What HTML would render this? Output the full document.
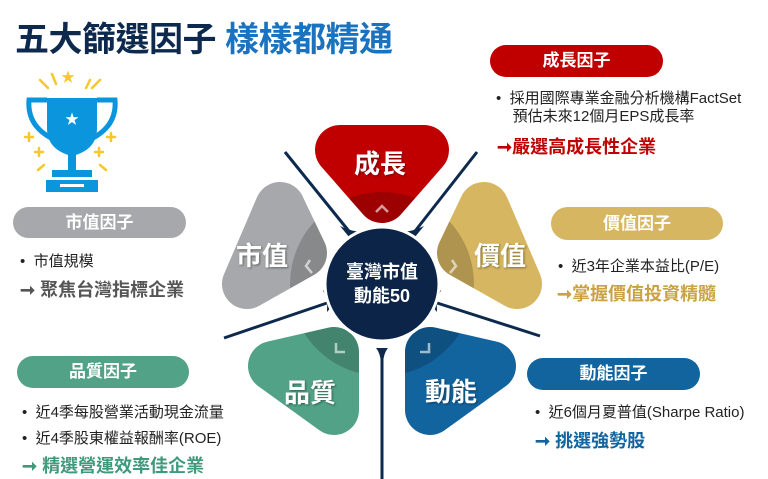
<!DOCTYPE html>
<html><head><meta charset="utf-8"><style>
body{margin:0;width:768px;height:479px;background:#fff;position:relative;overflow:hidden;font-family:"Liberation Sans","Noto Sans CJK TC",sans-serif;}
.a{position:absolute;white-space:nowrap;}
.pill{position:absolute;border-radius:17px;color:#fff;font-size:17px;font-weight:bold;text-align:center;}
.t{font-size:15px;color:#222;}
.ar{font-size:18px;font-weight:bold;}
.pt{position:absolute;white-space:nowrap;font-size:26px;font-weight:bold;color:#fff;text-shadow:1px 1px 2px rgba(0,0,0,.4);}
</style></head><body>
<svg width="768" height="479" style="position:absolute;left:0;top:0">
<defs>
<mask id="m">
<g fill="#fff" stroke="#fff" stroke-width="50" stroke-linejoin="round">
<polygon points="340,150 424,150 382,198"/>
<polygon points="484,207 517,284 462,253"/>
<polygon points="280,207 247,284 302,253"/>
<polygon points="273,366 334,352 334,410"/>
<polygon points="430,352 491,366 430,410"/>
</g></mask>
</defs>
<g stroke-width="50" stroke-linejoin="round">
<polygon points="340,150 424,150 382,198" fill="#c00000" stroke="#c00000"/>
<polygon points="484,207 517,284 462,253" fill="#d6b660" stroke="#d6b660"/>
<polygon points="280,207 247,284 302,253" fill="#a7a8ab" stroke="#a7a8ab"/>
<polygon points="273,366 334,352 334,410" fill="#52a287" stroke="#52a287"/>
<polygon points="430,352 491,366 430,410" fill="#12649f" stroke="#12649f"/>
</g>
<circle cx="382" cy="284" r="92" fill="#000" opacity="0.18" mask="url(#m)"/>
<g stroke="#0d2a4e" stroke-width="3">
<line x1="285" y1="152" x2="352" y2="235"/>
<line x1="477" y1="152" x2="412" y2="235"/>
<line x1="224" y1="338" x2="330" y2="302"/>
<line x1="540" y1="336" x2="434" y2="302"/>
<line x1="382" y1="350" x2="382" y2="479"/>
</g>
<g fill="#0d2a4e">
<path d="M340,226 Q352,232 364,232 L354,243 Z"/>
<path d="M424,226 Q412,232 400,232 L410,243 Z"/>
<path d="M323,290 Q328,300 327,312 L337,300 Z"/>
<path d="M441,290 Q436,300 437,312 L427,300 Z"/>
<path d="M376,348 Q381,354 381,366 L383,366 Q383,354 388,348 Z"/>
</g>
<circle cx="382" cy="284" r="57" fill="#0b2447" stroke="#fff" stroke-width="3"/>
<g fill="none" stroke="#fff" stroke-opacity="0.6" stroke-width="2.5">
<polyline points="376,212 382,206 388,212"/>
<polyline points="310,260 306,266 312,273"/>
<polyline points="452,260 456,266 450,273"/>
<polyline points="336,343 336,352 345,352"/>
<polyline points="429,343 429,352 420,352"/>
</g>
<g fill="#0a95dc">
<path d="M47,98 h50 v30 q0,22 -25,28 q-25,-6 -25,-28z"/>
<path d="M47,100 h-18 q-2,25 22,38" fill="none" stroke="#0a95dc" stroke-width="5"/>
<path d="M97,100 h18 q2,25 -22,38" fill="none" stroke="#0a95dc" stroke-width="5"/>
<rect x="68" y="155" width="8" height="15"/>
<rect x="52" y="170" width="40" height="7"/>
<rect x="46" y="180" width="52" height="12"/>
</g>
<rect x="60" y="184" width="24" height="3" fill="#fff"/>
<text x="72" y="124" font-size="14" fill="#fff" text-anchor="middle">★</text>
<text x="68" y="82" font-size="14" fill="#f7c72c" text-anchor="middle">★</text>
<g stroke="#f7c72c" stroke-width="2.5" stroke-linecap="round">
<line x1="40" y1="80" x2="48" y2="88"/><line x1="52" y1="74" x2="56" y2="84"/>
<line x1="90" y1="80" x2="86" y2="88"/><line x1="100" y1="80" x2="92" y2="88"/>
<line x1="25" y1="137" x2="33" y2="137"/><line x1="29" y1="133" x2="29" y2="141"/>
<line x1="107" y1="137" x2="115" y2="137"/><line x1="111" y1="133" x2="111" y2="141"/>
<line x1="35" y1="152" x2="43" y2="152"/><line x1="39" y1="148" x2="39" y2="156"/>
<line x1="95" y1="152" x2="103" y2="152"/><line x1="99" y1="148" x2="99" y2="156"/>
<line x1="38" y1="170" x2="44" y2="165"/><line x1="100" y1="165" x2="106" y2="170"/>
</g>
</svg>
<div class="a" style="left:15px;top:12px;font-size:34px;font-weight:bold;color:#0d2a4e;letter-spacing:-0.5px">五大篩選因子 <span style="color:#1a73c1">樣樣都精通</span></div>

<div class="pt" style="left:354px;top:144px">成長</div>
<div class="pt" style="left:474px;top:236px">價值</div>
<div class="pt" style="left:236px;top:236px">市值</div>
<div class="pt" style="left:284px;top:373px">品質</div>
<div class="pt" style="left:425px;top:372px">動能</div>
<div class="a" style="left:334px;top:260px;width:96px;text-align:center;font-size:18px;font-weight:bold;color:#fff;line-height:24px">臺灣市值<br>動能50</div>

<div class="pill" style="left:490px;top:45px;width:173px;height:32px;line-height:32px;background:#c00000">成長因子</div>
<div class="a t" style="left:496px;top:90px;line-height:18px">•&nbsp; 採用國際專業金融分析機構FactSet<br>&nbsp;&nbsp;&nbsp; 預估未來12個月EPS成長率</div>
<div class="a ar" style="left:497px;top:133px;color:#c00000">➞嚴選高成長性企業</div>

<div class="pill" style="left:551px;top:207px;width:172px;height:33px;line-height:33px;background:#d6b660">價值因子</div>
<div class="a t" style="left:558px;top:255px">•&nbsp; 近3年企業本益比(P/E)</div>
<div class="a ar" style="left:557px;top:280px;color:#c9a243">➞掌握價值投資精髓</div>

<div class="pill" style="left:13px;top:207px;width:173px;height:31px;line-height:31px;background:#a7a8ab">市值因子</div>
<div class="a t" style="left:20px;top:250px">•&nbsp; 市值規模</div>
<div class="a ar" style="left:20px;top:276px;color:#555">➞ 聚焦台灣指標企業</div>

<div class="pill" style="left:17px;top:356px;width:172px;height:32px;line-height:32px;background:#52a287">品質因子</div>
<div class="a t" style="left:22px;top:401px">•&nbsp; 近4季每股營業活動現金流量</div>
<div class="a t" style="left:22px;top:427px">•&nbsp; 近4季股東權益報酬率(ROE)</div>
<div class="a ar" style="left:22px;top:452px;color:#3f9a7c">➞ 精選營運效率佳企業</div>

<div class="pill" style="left:527px;top:358px;width:173px;height:32px;line-height:32px;background:#12649f">動能因子</div>
<div class="a t" style="left:535px;top:401px">•&nbsp; 近6個月夏普值(Sharpe Ratio)</div>
<div class="a ar" style="left:535px;top:427px;color:#12649f">➞ 挑選強勢股</div>
</body></html>
